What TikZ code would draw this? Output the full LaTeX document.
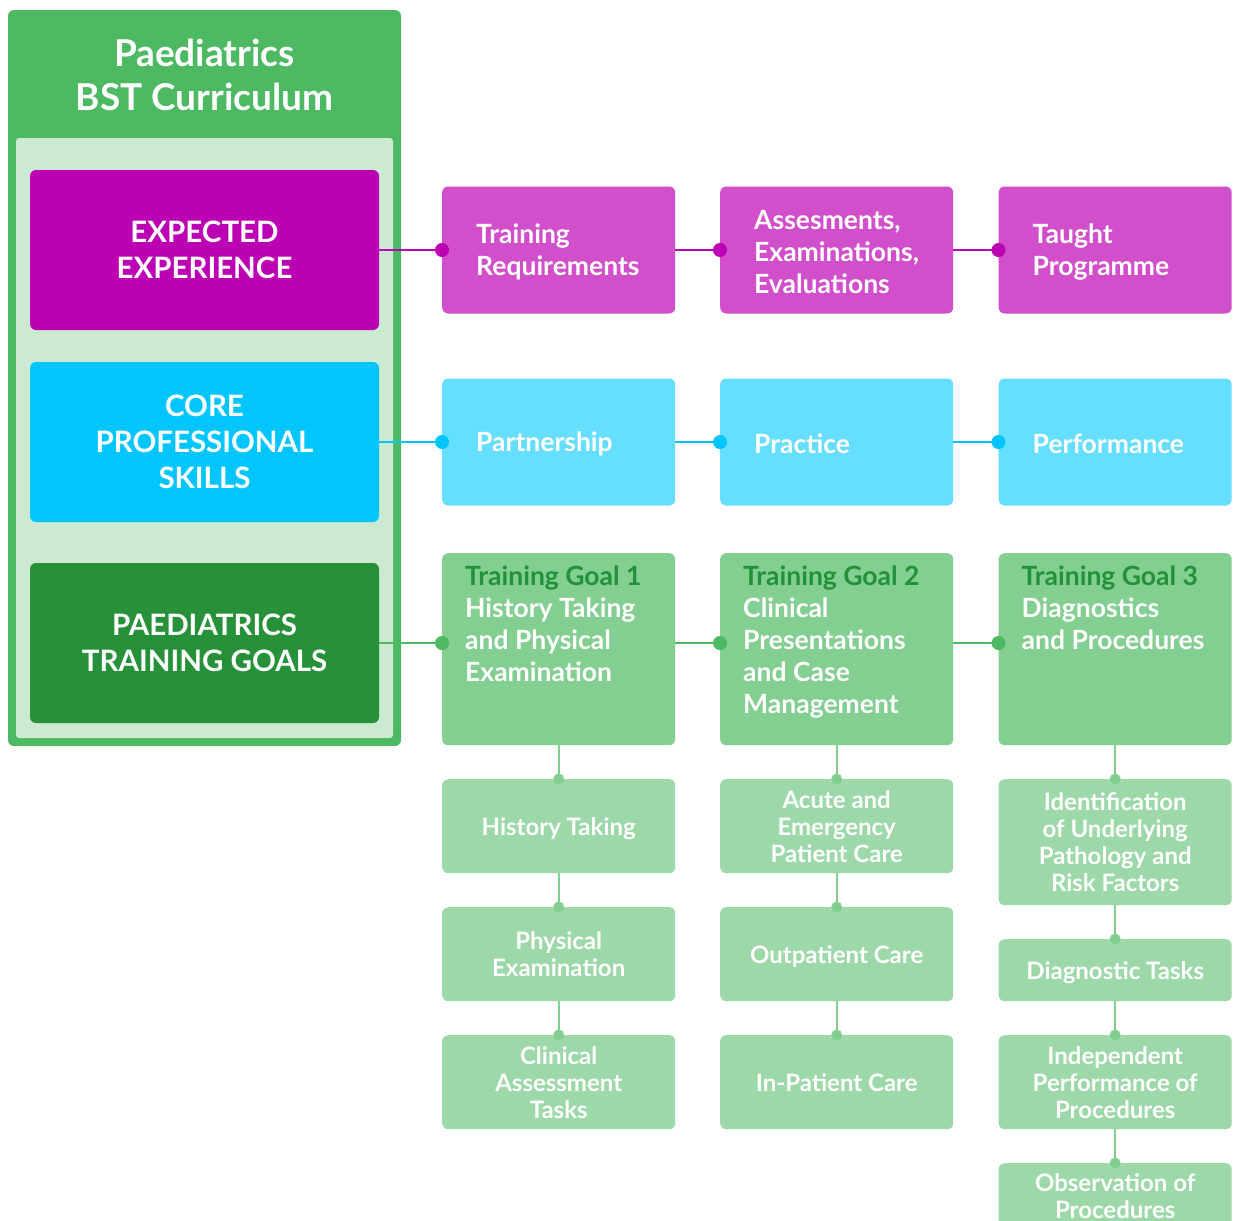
\documentclass[tikz,border=0pt]{standalone}
\usepackage{fontspec}
\setmainfont{Lato}
\usepackage{tikz}
\usetikzlibrary{calc}

\definecolor{outergreen}{HTML}{4DB962}
\definecolor{innergreen}{HTML}{CCEAD1}
\definecolor{eecolor}{HTML}{BC00B4}
\definecolor{cpscolor}{HTML}{00C5FF}
\definecolor{tgcolor}{HTML}{269139}
\definecolor{rowpink}{HTML}{D24FCB}
\definecolor{rowblue}{HTML}{66DEFF}
\definecolor{goalgreen}{HTML}{83CE91}
\definecolor{goaltitle}{HTML}{23913A}
\definecolor{subgreen}{HTML}{9DD9A8}

\tikzset{
	leftbox/.style = {rounded corners = 6pt, minimum width = 349pt, minimum height = 160pt, text = white, align = center, font = \fontsize{29.5}{36}\selectfont\bfseries},
	rowbox/.style = {rounded corners = 6pt, anchor = west, inner xsep = 34pt, text width = 165pt, minimum height = 127pt, text height = 24pt, text = white, align = left, font = \fontsize{26.5}{32}\selectfont\bfseries},
	goalbox/.style = {rounded corners = 6pt, anchor = north west, fill = goalgreen, minimum width = 233pt, minimum height = 192pt},
	goaltext/.style = {anchor = north west, inner sep = 0pt, text = white, align = left, font = \fontsize{26.5}{32}\selectfont\bfseries},
	subbox/.style = {rounded corners = 6pt, anchor = north west, fill = subgreen, minimum width = 233pt, text depth = 0pt, text = white, align = center, font = \fontsize{24}{27}\selectfont\bfseries},
	link/.style = {line width = 2pt}
}

\begin{document}
\begin{tikzpicture}[x = 1pt, y = -1pt]
				\useasboundingbox (0,0) rectangle (1240,1221);
				\clip (0,0) rectangle (1240,1221);
				\fill [white] (0,0) rectangle (1240,1221);

				\fill [outergreen, rounded corners = 6pt] (8,10) rectangle (401,746);
				\node [text = white, align = center, font = \fontsize{37}{44}\selectfont\bfseries] (title) at (204.5,75) {Paediatrics\\BST Curriculum};
				\fill [innergreen, rounded corners = 3pt] (16,138) rectangle (393,738);

				\node [leftbox, fill = eecolor] (ee) at (204.5,250) {EXPECTED\\EXPERIENCE};
				\node [leftbox, fill = cpscolor] (cps) at (204.5,442) {CORE\\PROFESSIONAL\\SKILLS};
				\node [leftbox, fill = tgcolor] (tg) at (204.5,643) {PAEDIATRICS\\TRAINING GOALS};

				\node [rowbox, fill = rowpink] (tr) at (442,250) {Training\\Requirements};
				\node [rowbox, fill = rowpink] (ae) at (720,250) {Assesments,\\Examinations,\\Evaluations};
				\node [rowbox, fill = rowpink] (tp) at (998.5,250) {Taught\\Programme};

				\node [rowbox, fill = rowblue] (pa) at (442,442) {Partnership};
				\node [rowbox, fill = rowblue] (pr) at (720,442) {Practice};
				\node [rowbox, fill = rowblue] (pe) at (998.5,442) {Performance};

				\node [goalbox] (g1) at (442,553) {};
				\node [goalbox] (g2) at (720,553) {};
				\node [goalbox] (g3) at (998.5,553) {};
				\node [goaltext] at ($(g1.north west) + (23,13)$) {\textcolor{goaltitle}{Training Goal 1}\\History Taking\\and Physical\\Examination};
				\node [goaltext] at ($(g2.north west) + (23,13)$) {\textcolor{goaltitle}{Training Goal 2}\\Clinical\\Presentations\\and Case\\Management};
				\node [goaltext] at ($(g3.north west) + (23,13)$) {\textcolor{goaltitle}{Training Goal 3}\\Diagnostics\\and Procedures};

				\node [subbox, minimum height = 94pt] (s11) at (442,779) {History Taking};
				\node [subbox, minimum height = 94pt] (s12) at (442,907) {Physical\\Examination};
				\node [subbox, minimum height = 94pt] (s13) at (442,1035) {Clinical\\Assessment\\Tasks};

				\node [subbox, minimum height = 94pt] (s21) at (720,779) {Acute and\\Emergency\\Patient Care};
				\node [subbox, minimum height = 94pt] (s22) at (720,907) {Outpatient Care};
				\node [subbox, minimum height = 94pt] (s23) at (720,1035) {In-Patient Care};

				\node [subbox, minimum height = 126pt] (s31) at (998.5,779) {Identification\\of Underlying\\Pathology and\\Risk Factors};
				\node [subbox, minimum height = 62pt] (s32) at (998.5,939) {Diagnostic Tasks};
				\node [subbox, minimum height = 94pt] (s33) at (998.5,1035) {Independent\\Performance of\\Procedures};
				\node [subbox, minimum height = 66pt] (s34) at (998.5,1163) {Observation of\\Procedures};

				\begin{scope}[link, eecolor]
					\draw (ee.east) -- (tr.west) (tr.east) -- (ae.west) (ae.east) -- (tp.west);
					\foreach \n in {tr, ae, tp}
					{
						\fill (\n.west) circle (7pt);
					}
				\end{scope}

				\begin{scope}[link, cpscolor]
					\draw (cps.east) -- (pa.west) (pa.east) -- (pr.west) (pr.east) -- (pe.west);
					\foreach \n in {pa, pr, pe}
					{
						\fill (\n.west) circle (7pt);
					}
				\end{scope}

				\begin{scope}[link, outergreen]
					\draw (tg.east) -- (tg.east -| g1.west) (tg.east -| g1.east) -- (tg.east -| g2.west) (tg.east -| g2.east) -- (tg.east -| g3.west);
					\foreach \n in {g1, g2, g3}
					{
						\fill (tg.east -| \n.west) circle (7pt);
					}
				\end{scope}

				\begin{scope}[link, goalgreen]
					\draw (g1.south) -- (s11.north) (s11.south) -- (s12.north) (s12.south) -- (s13.north);
					\draw (g2.south) -- (s21.north) (s21.south) -- (s22.north) (s22.south) -- (s23.north);
					\draw (g3.south) -- (s31.north) (s31.south) -- (s32.north) (s32.south) -- (s33.north) (s33.south) -- (s34.north);
					\foreach \n in {s11, s12, s13, s21, s22, s23, s31, s32, s33, s34}
					{
						\fill (\n.north) circle (5.5pt);
					}
				\end{scope}
			\end{tikzpicture}
\end{document}
